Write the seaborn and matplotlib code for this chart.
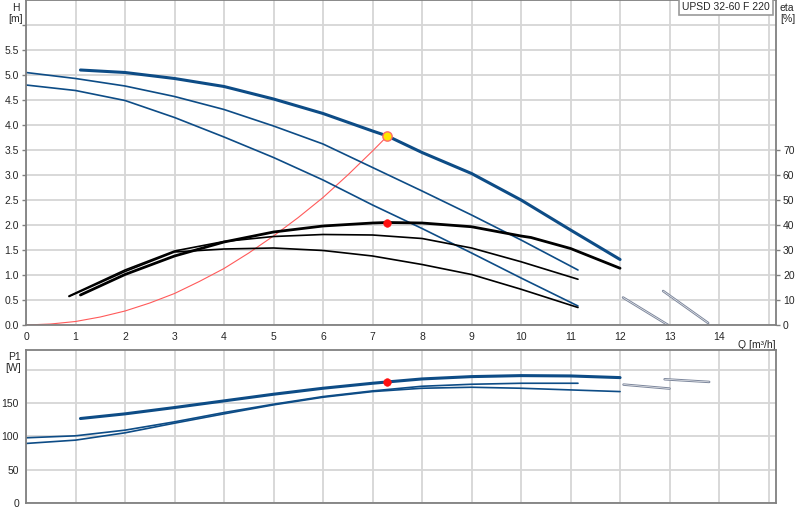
import matplotlib
matplotlib.use("Agg")
import matplotlib.pyplot as plt
import seaborn as sns

# --- head curves H [m] vs Q [m3/h] ---
q_h_top = [1.1, 2, 3, 4, 5, 6, 7, 7.3, 8, 9, 10, 11, 12]
h_top = [5.1, 5.05, 4.93, 4.77, 4.52, 4.23, 3.88, 3.78, 3.45, 3.03, 2.5, 1.9, 1.31]
q_h_mid = [0, 1, 2, 3, 4, 5, 6, 7, 8, 9, 10, 11.15]
h_mid = [5.05, 4.93, 4.78, 4.57, 4.31, 3.98, 3.62, 3.15, 2.68, 2.2, 1.7, 1.1]
q_h_low = [0, 1, 2, 3, 4, 5, 6, 7, 8, 9, 10, 11.15]
h_low = [4.8, 4.69, 4.49, 4.15, 3.76, 3.35, 2.9, 2.4, 1.93, 1.44, 0.94, 0.38]
q_h_ext1 = [12.06, 12.97]
h_ext1 = [0.55, 0.0]
q_h_ext2 = [12.87, 13.78]
h_ext2 = [0.68, 0.04]

# --- system curve ---
q_sys = [0, 0.5, 1, 1.5, 2, 2.5, 3, 3.5, 4, 4.5, 5, 5.5, 6, 6.5, 7, 7.3]
h_sys = [0, 0.02, 0.07, 0.16, 0.28, 0.44, 0.63, 0.87, 1.13, 1.44, 1.78, 2.15, 2.55, 3.0, 3.48, 3.78]

# --- efficiency curves eta [%] ---
q_eta_top = [1.1, 2, 3, 4, 5, 6, 7, 7.3, 8, 9, 10, 10.2, 11, 12]
eta_top = [12, 20.2, 27.6, 33.2, 37.2, 39.6, 40.8, 41, 40.8, 39.3, 35.6, 35, 30.6, 22.7]
q_eta_mid = [0.87, 2, 3, 4, 5, 6, 7, 8, 9, 10, 11.15]
eta_mid = [11.6, 22, 29.6, 33.4, 35.4, 36.2, 36, 34.6, 30.8, 25.3, 18.3]
q_eta_low = [0.87, 2, 3, 4, 5, 6, 7, 8, 9, 10, 11.15]
eta_low = [11.4, 21.4, 29.2, 30.4, 30.8, 29.8, 27.6, 24.2, 20.2, 14.3, 7]

# --- power curves P1 [W] ---
q_p_top = [1.1, 2, 3, 4, 5, 6, 7, 7.3, 8, 9, 10, 11, 12]
p_top = [127, 134, 143.5, 153.5, 163.5, 172.5, 180, 182, 186.5, 190, 191.5, 191, 188.5]
q_p_mid = [0, 1, 2, 3, 4, 5, 6, 7, 8, 9, 10, 11.15]
p_mid = [98, 101, 109.5, 122, 136, 148.5, 160, 168.5, 175.5, 178.5, 180, 180]
q_p_low = [0, 1, 2, 3, 4, 5, 6, 7, 8, 9, 10, 11, 12]
p_low = [89.5, 94.5, 105.5, 120, 134, 147.5, 159, 167.5, 172.5, 174, 172.5, 170, 167.5]
q_p_ext1 = [12.07, 13.0]
p_ext1 = [178, 172]
q_p_ext2 = [12.9, 13.8]
p_ext2 = [186, 182]

# duty point
q_duty = [7.3]
h_duty = [3.78]
eta_duty = [41]
p_duty = [182]

title_box = "UPSD 32-60 F 220"

sns.set_style("white")
plt.rcParams["font.family"] = ["Liberation Sans", "DejaVu Sans"]
plt.rcParams["font.size"] = 7.5

BLUE = "#0d4c86"
EXT = "#7d879c"
GRID = "#d6d6d6"
FRAME = "#808080"

fig = plt.figure(figsize=(8, 5.2), dpi=100)
ax = fig.add_axes([26 / 800, 195 / 520, 750 / 800, 325 / 520])
axp = fig.add_axes([26 / 800, 17 / 520, 750 / 800, 153 / 520])


def style_axes(a):
    for s in a.spines.values():
        s.set_color(FRAME)
        s.set_linewidth(1.3)
    a.grid(True, color=GRID, linewidth=1.3)
    a.set_axisbelow(True)
    a.tick_params(direction="out", length=3, width=1, color=FRAME, pad=2, labelsize=7.5)


def ext_line(a, x, y):
    # thin double line for the curve parts past the end of the range
    sns.lineplot(x=x, y=y, ax=a, color=EXT, linewidth=1.8, sort=False, estimator=None)
    sns.lineplot(x=x, y=y, ax=a, color="white", linewidth=0.4, sort=False, estimator=None)


# ---------------- top panel ----------------
style_axes(ax)
ax.set_xlim(0, 15.15)
ax.set_ylim(0, 6.5)
ax.set_xticks(range(0, 16))
ax.set_xticklabels([str(i) for i in range(0, 15)] + [""])
yt = [i * 0.5 for i in range(13)]
ax.set_yticks(yt)
ax.set_yticklabels([f"{v:.1f}" for v in yt[:-1]] + [""])

sns.lineplot(x=q_sys, y=h_sys, ax=ax, color="#ff5a5a", linewidth=0.8, sort=False, estimator=None)
sns.lineplot(x=q_h_top, y=h_top, ax=ax, color=BLUE, linewidth=2.2, sort=False, estimator=None)
sns.lineplot(x=q_h_mid, y=h_mid, ax=ax, color=BLUE, linewidth=1.2, sort=False, estimator=None)
sns.lineplot(x=q_h_low, y=h_low, ax=ax, color=BLUE, linewidth=1.2, sort=False, estimator=None)
ext_line(ax, q_h_ext1, h_ext1)
ext_line(ax, q_h_ext2, h_ext2)

axr = ax.twinx()
axr.set_ylim(0, 130)
axr.set_yticks(range(0, 80, 10))
for s in axr.spines.values():
    s.set_visible(False)
axr.tick_params(direction="out", length=3, width=1, color=FRAME, pad=2, labelsize=7.5)
axr.grid(False)

sns.lineplot(x=q_eta_low, y=eta_low, ax=axr, color="black", linewidth=1.2, sort=False, estimator=None)
sns.lineplot(x=q_eta_mid, y=eta_mid, ax=axr, color="black", linewidth=1.2, sort=False, estimator=None)
sns.lineplot(x=q_eta_top, y=eta_top, ax=axr, color="black", linewidth=2.0, sort=False, estimator=None)
sns.scatterplot(x=q_duty, y=eta_duty, ax=axr, color="#ff1010", s=30, edgecolor="#ff1010", zorder=5)
sns.scatterplot(x=q_duty, y=[h * 20 for h in h_duty], ax=axr, color="#ffe600", s=45,
                edgecolor="#ff6a6a", linewidth=1.0, zorder=6)

ax.text(1.0, -0.045, "Q [m³/h]", transform=ax.transAxes, ha="right", va="top", fontsize=7.5)
fig.text(16 / 800, 1 - 3 / 520, "H", ha="center", va="top", fontsize=7.5)
fig.text(16 / 800, 1 - 14 / 520, "[m]", ha="center", va="top", fontsize=7.5)
fig.text(780 / 800, 1 - 3 / 520, "eta", ha="left", va="top", fontsize=7.5)
fig.text(780 / 800, 1 - 14 / 520, "[%]", ha="left", va="top", fontsize=7.5)
ax.text(0.992, 0.995, title_box, transform=ax.transAxes, ha="right", va="top", fontsize=7.5,
        bbox=dict(boxstyle="square,pad=0.3", facecolor="white", edgecolor="#9a9a9a", linewidth=1.2),
        zorder=10)

# ---------------- bottom panel ----------------
style_axes(axp)
axp.set_xlim(0, 15.15)
axp.set_ylim(0, 230)
axp.set_xticks(range(0, 16))
axp.set_xticklabels([])
axp.set_yticks([0, 50, 100, 150, 200])
axp.set_yticklabels(["0", "50", "100", "150", ""])

sns.lineplot(x=q_p_low, y=p_low, ax=axp, color=BLUE, linewidth=1.2, sort=False, estimator=None)
sns.lineplot(x=q_p_mid, y=p_mid, ax=axp, color=BLUE, linewidth=1.2, sort=False, estimator=None)
sns.lineplot(x=q_p_top, y=p_top, ax=axp, color=BLUE, linewidth=2.2, sort=False, estimator=None)
ext_line(axp, q_p_ext1, p_ext1)
ext_line(axp, q_p_ext2, p_ext2)
sns.scatterplot(x=q_duty, y=p_duty, ax=axp, color="#ff1010", s=30, edgecolor="#ff1010", zorder=5)

fig.text(8 / 800, 1 - 352 / 520, "P1", ha="left", va="top", fontsize=7.5)
fig.text(5 / 800, 1 - 363 / 520, "[W]", ha="left", va="top", fontsize=7.5)

fig.savefig("out.png", dpi=100)
